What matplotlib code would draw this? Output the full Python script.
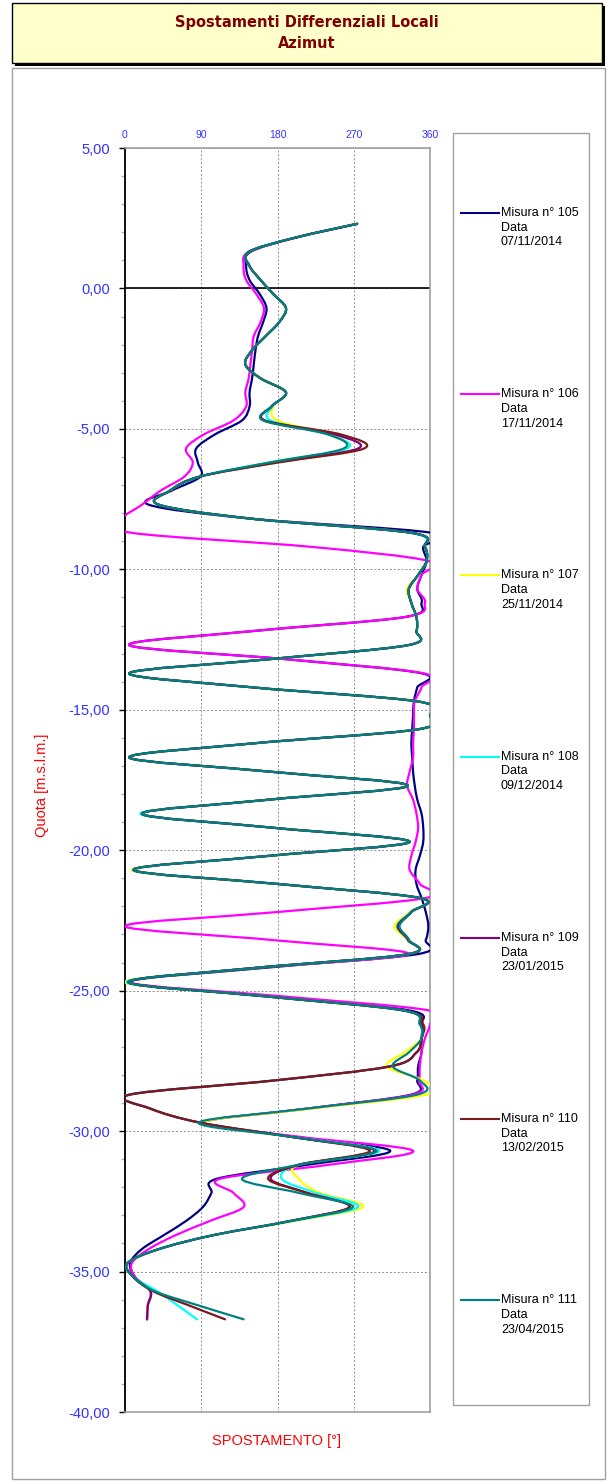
import numpy as np
import matplotlib
matplotlib.use("Agg")
import matplotlib.pyplot as plt
from matplotlib.path import Path
from matplotlib.patches import PathPatch, Rectangle
from matplotlib.lines import Line2D
from matplotlib.ticker import FuncFormatter, MultipleLocator

# ---- measurement depths (m s.l.m.) ----
quota = [2.3, 1.8, 1.3, 0.8, 0.3, -0.2, -0.7, -1.2, -1.7, -2.2,
         -2.7, -3.2, -3.7, -4.2, -4.7, -5.2, -5.7, -6.2, -6.7, -7.2,
         -7.7, -8.2, -8.7, -9.2, -9.7, -10.2, -10.7, -11.2, -11.7, -12.2,
         -12.7, -13.2, -13.7, -14.2, -14.7, -15.2, -15.7, -16.2, -16.7, -17.2,
         -17.7, -18.2, -18.7, -19.2, -19.7, -20.2, -20.7, -21.2, -21.7, -22.2,
         -22.7, -23.2, -23.7, -24.2, -24.7, -25.2, -25.7, -26.2, -26.7, -27.2,
         -27.7, -28.2, -28.7, -29.2, -29.7, -30.2, -30.7, -31.2, -31.7, -32.2,
         -32.7, -33.2, -33.7, -34.2, -34.7, -35.2, -35.7, -36.2, -36.7]

# ---- azimuth readings (degrees) ----
misura_105 = [274, 200, 148, 143, 147, 159, 167, 163, 157, 154,
              152, 150, 147, 147, 138, 106, 84, 86, 89, 55,
              28, 150, 362, 352, 356, 350, 345, 350, 330, 150,
              5, 190, 350, 345, 341, 340, 339, 338, 339, 340,
              342, 345, 350, 352, 352, 348, 343, 344, 350, 355,
              358, 355, 345, 160, 5, 170, 335, 350, 350, 350,
              346, 345, 338, 215, 92, 200, 313, 215, 108, 102,
              92, 72, 46, 20, 6, 12, 30, 27, 26]

misura_106 = [274, 200, 146, 140, 143, 155, 164, 160, 152, 150,
              148, 146, 142, 143, 128, 93, 72, 80, 70, 42,
              20, -3, 8, 220, 358, 350, 345, 354, 330, 150,
              5, 190, 352, 350, 342, 341, 341, 340, 340, 336,
              333, 340, 344, 346, 343, 338, 336, 348, 355, 180,
              0, 175, 335, 150, 6, 185, 358, 360, 354, 350,
              348, 347, 340, 215, 92, 205, 340, 240, 112, 128,
              140, 100, 60, 28, 8, 12, 30, 27, 26]

misura_107 = [274, 200, 146, 147, 160, 175, 190, 182, 166, 150,
              142, 160, 190, 175, 180, 240, 262, 170, 88, 53,
              40, 150, 338, 354, 356, 346, 333, 338, 344, 344,
              334, 170, 5, 150, 345, 360, 345, 150, 5, 170,
              334, 168, 20, 175, 336, 172, 8, 178, 348, 336,
              318, 333, 334, 150, 0, 165, 328, 348, 350, 330,
              309, 352, 356, 220, 92, 195, 300, 205, 205, 230,
              281, 200, 105, 40, 3, 10, 30, 27, 26]

misura_108 = [274, 200, 146, 147, 160, 175, 190, 182, 166, 150,
              142, 160, 190, 174, 172, 240, 262, 170, 88, 53,
              40, 150, 336, 354, 356, 346, 335, 338, 344, 344,
              334, 170, 5, 150, 345, 360, 345, 150, 5, 170,
              334, 170, 18, 175, 336, 170, 10, 180, 348, 337,
              321, 334, 334, 150, 2, 165, 328, 348, 350, 344,
              312, 175, 4, 30, 88, 195, 300, 205, 185, 225,
              275, 198, 105, 40, 3, 10, 38, 62, 85]

misura_109 = [274, 200, 146, 147, 160, 175, 190, 182, 166, 150,
              142, 160, 190, 173, 165, 248, 275, 176, 88, 53,
              40, 150, 338, 354, 356, 346, 335, 338, 344, 344,
              334, 170, 5, 150, 345, 360, 345, 150, 5, 170,
              334, 170, 20, 175, 336, 170, 10, 180, 348, 338,
              322, 334, 334, 150, 4, 165, 328, 350, 350, 344,
              312, 175, 6, 30, 89, 195, 295, 205, 172, 215,
              265, 195, 105, 40, 3, 10, 30, 27, 26]

misura_110 = [274, 200, 146, 147, 160, 175, 190, 182, 166, 150,
              142, 160, 190, 173, 165, 255, 282, 180, 88, 53,
              40, 150, 338, 354, 356, 346, 335, 338, 344, 344,
              334, 170, 5, 150, 345, 360, 345, 150, 5, 170,
              334, 170, 20, 175, 336, 170, 10, 180, 348, 338,
              323, 335, 334, 150, 4, 165, 328, 352, 350, 344,
              312, 175, 6, 30, 89, 195, 289, 205, 169, 215,
              265, 195, 105, 40, 3, 10, 33, 75, 118]

misura_111 = [274, 200, 146, 147, 160, 175, 190, 182, 166, 150,
              142, 160, 190, 173, 163, 240, 258, 170, 88, 53,
              40, 150, 338, 354, 356, 346, 335, 338, 344, 344,
              334, 170, 5, 150, 345, 360, 345, 150, 5, 170,
              334, 170, 20, 175, 336, 170, 10, 180, 348, 338,
              324, 335, 334, 150, 4, 165, 328, 348, 350, 335,
              316, 348, 345, 215, 87, 195, 297, 205, 138, 205,
              269, 195, 105, 40, 3, 10, 35, 86, 140]

series = [
    ("105", "07/11/2014", misura_105, "#000080"),
    ("106", "17/11/2014", misura_106, "#FF00FF"),
    ("107", "25/11/2014", misura_107, "#FFFF00"),
    ("108", "09/12/2014", misura_108, "#00FFFF"),
    ("109", "23/01/2015", misura_109, "#800080"),
    ("110", "13/02/2015", misura_110, "#7A1A1A"),
    ("111", "23/04/2015", misura_111, "#008080"),
]

W, H = 611, 1482


def fx(px):
    return px / W


def fy(py):
    return 1 - py / H


def smooth_path(xs, ys):
    """Smoothed polyline (Catmull-Rom as cubic Bezier segments)."""
    pts = np.column_stack([xs, ys]).astype(float)
    n = len(pts)
    verts = [pts[0]]
    codes = [Path.MOVETO]
    for i in range(n - 1):
        p0 = pts[i - 1] if i > 0 else pts[i]
        p1 = pts[i]
        p2 = pts[i + 1]
        p3 = pts[i + 2] if i + 2 < n else pts[i + 1]
        verts += [p1 + (p2 - p0) / 6.0, p2 - (p3 - p1) / 6.0, p2]
        codes += [Path.CURVE4] * 3
    return Path(verts, codes)


fig = plt.figure(figsize=(W / 100, H / 100), dpi=100)
fig.patch.set_facecolor("white")

# title box with drop shadow
fig.add_artist(Rectangle((fx(15), fy(66)), fx(590), fy(6) - fy(66), transform=fig.transFigure,
                         facecolor="black", edgecolor="black", lw=0))
fig.add_artist(Rectangle((fx(12), fy(63)), fx(590), fy(3) - fy(63), transform=fig.transFigure,
                         facecolor="#FFFFCC", edgecolor="black", lw=1))
fig.text(fx(307), fy(23), "Spostamenti Differenziali Locali", ha="center", va="center",
         color="#800000", fontsize=10.5, fontweight="bold", family="DejaVu Sans")
fig.text(fx(307), fy(44), "Azimut", ha="center", va="center",
         color="#800000", fontsize=10.5, fontweight="bold", family="DejaVu Sans")

# chart area frame
fig.add_artist(Rectangle((fx(12), fy(1479)), fx(593), fy(68) - fy(1479), transform=fig.transFigure,
                         facecolor="none", edgecolor="#A0A0A0", lw=1))

ax = fig.add_axes([fx(125), fy(1412), fx(305), fy(148) - fy(1412)])
ax.set_xlim(0, 360)
ax.set_ylim(-40, 5)

for num, data, vals, col in series:
    ax.add_patch(PathPatch(smooth_path(vals, quota), facecolor="none", edgecolor=col,
                           lw=1.6, zorder=3, capstyle="round", joinstyle="round"))

ax.axhline(0, color="black", lw=1.2, zorder=2)
ax.grid(True, which="major", color="#909090", ls=(0, (2, 2)), lw=0.7, zorder=1)

ax.xaxis.tick_top()
ax.set_xticks([0, 90, 180, 270, 360])
ax.tick_params(axis="x", which="both", length=0, pad=6, labelsize=7.5, labelcolor="#3333FF",
               labelfontfamily="Liberation Sans")
ax.yaxis.set_major_locator(MultipleLocator(5))
ax.yaxis.set_minor_locator(MultipleLocator(1))
ax.yaxis.set_major_formatter(FuncFormatter(lambda v, p: f"{v:.2f}".replace(".", ",")))
ax.tick_params(axis="y", which="major", direction="out", length=4, width=1, color="black",
               pad=7, labelsize=10.5, labelcolor="#3333FF", labelfontfamily="Liberation Sans")
ax.tick_params(axis="y", which="minor", direction="out", length=3, width=1, color="#B0B0B0")

for s in ["top", "right", "bottom"]:
    ax.spines[s].set_color("#A0A0A0")
    ax.spines[s].set_linewidth(1.2)
ax.spines["left"].set_color("black")
ax.spines["left"].set_linewidth(1.3)

fig.text(fx(42), fy(785), "Quota [m.s.l.m.]", rotation=90, ha="center", va="center",
         color="#FF0000", fontsize=10.5, family="Liberation Sans")
fig.text(fx(276), fy(1441), "SPOSTAMENTO [°]", ha="center", va="center",
         color="#FF0000", fontsize=10.5, family="Liberation Sans")

# legend panel
fig.add_artist(Rectangle((fx(453), fy(1405)), fx(136), fy(133) - fy(1405), transform=fig.transFigure,
                         facecolor="white", edgecolor="#A0A0A0", lw=1))
for k, (num, data, vals, col) in enumerate(series):
    yc = 213 + k * 181.2
    fig.add_artist(Line2D([fx(461), fx(499)], [fy(yc), fy(yc)], transform=fig.transFigure,
                          color=col, lw=1.5))
    fig.text(fx(501), fy(yc - 6), f"Misura n° {num}\nData\n{data}", ha="left", va="top",
             fontsize=9, family="Liberation Sans", color="black", linespacing=1.3)

fig.savefig("out.png", dpi=100)
